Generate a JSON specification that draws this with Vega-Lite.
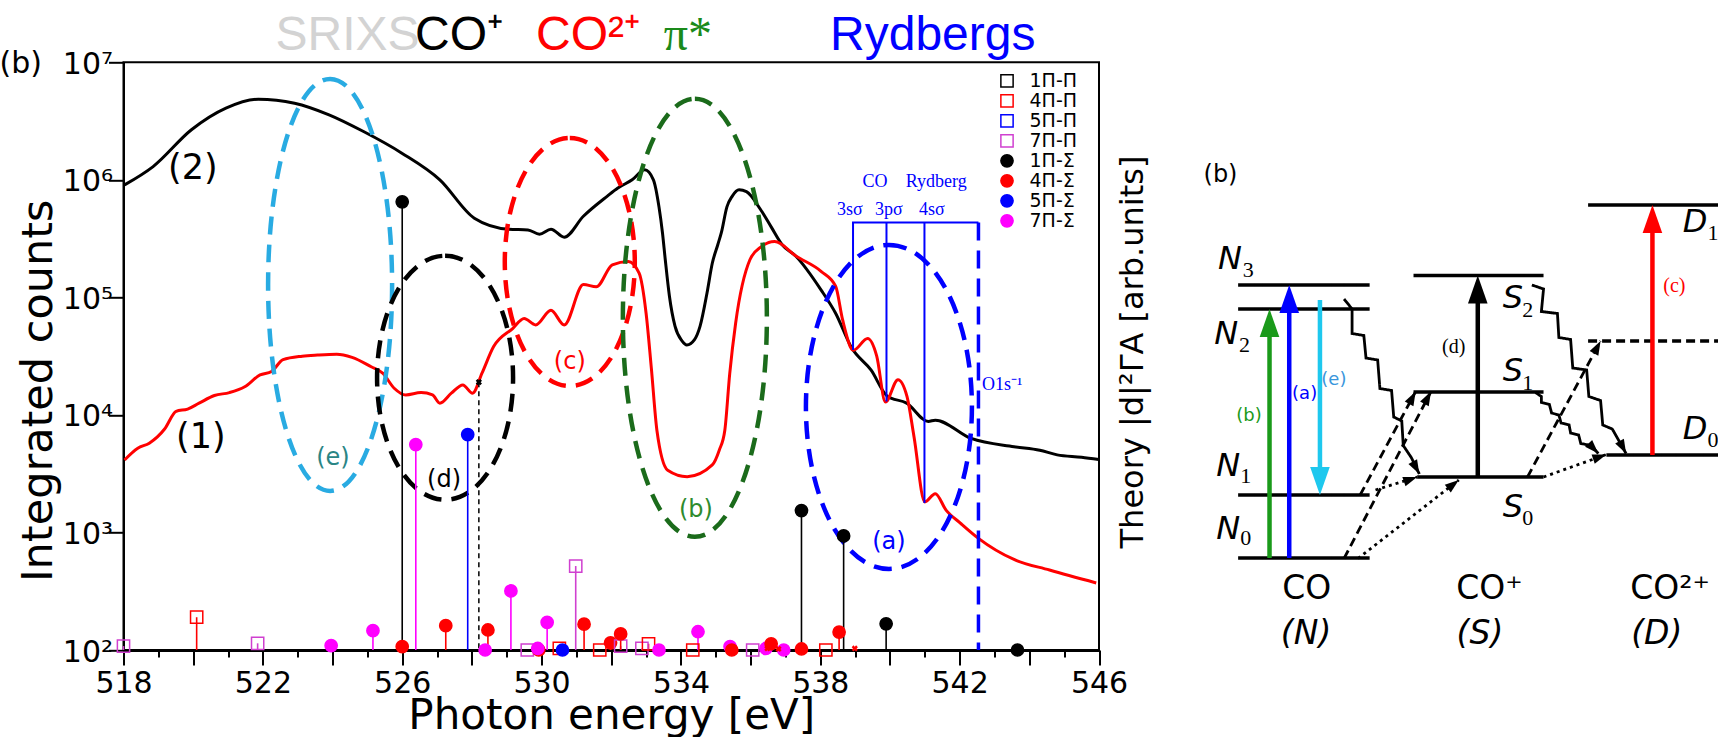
{
"$schema":"https://vega.github.io/schema/vega-lite/v6.json",
"width":975.5,"height":587.7,
"autosize":{"type":"none"},
"padding":{"left":123.5,"top":62.3,"right":619,"bottom":87},
"background":"white",
"config":{
 "view":{"stroke":"black","strokeWidth":2},
 "axis":{"grid":false,"labelFont":"DejaVu Sans","titleFont":"DejaVu Sans","labelColor":"black","titleColor":"black","domainColor":"black","tickColor":"black","titleFontWeight":"normal"},
 "legend":{"orient":"none","legendX":874,"legendY":9,"padding":0,"labelFont":"DejaVu Sans","labelFontSize":19,"labelColor":"black","symbolSize":150,"symbolStrokeWidth":1.5,"rowPadding":-0.4,"labelOffset":13}
},
"datasets":{
 "spec2":[{"x":518.03,"y":905700},{"x":518.85,"y":1297000},{"x":519.95,"y":2667000},{"x":520.94,"y":4074000},{"x":521.87,"y":4853000},{"x":522.91,"y":4487000},{"x":523.9,"y":3573000},{"x":524.89,"y":2576000},{"x":525.99,"y":1687000},{"x":527.08,"y":1000000},{"x":528.07,"y":472000},{"x":529.06,"y":380000},{"x":529.61,"y":375000},{"x":529.94,"y":345000},{"x":530.27,"y":380000},{"x":530.65,"y":325000},{"x":531.2,"y":490000},{"x":531.88,"y":724000},{"x":532.19,"y":851000},{"x":532.6,"y":1000000},{"x":532.96,"y":1216000},{"x":533.21,"y":1000000},{"x":533.37,"y":589000},{"x":533.47,"y":355000},{"x":533.55,"y":210000},{"x":533.67,"y":102300},{"x":533.83,"y":56900},{"x":534.03,"y":42700},{"x":534.17,"y":39400},{"x":534.39,"y":43700},{"x":534.55,"y":56900},{"x":534.75,"y":109600},{"x":534.9,"y":195000},{"x":535.06,"y":282000},{"x":535.16,"y":355000},{"x":535.32,"y":589000},{"x":535.47,"y":724000},{"x":535.67,"y":822000},{"x":535.88,"y":794000},{"x":536.28,"y":562000},{"x":536.59,"y":398000},{"x":536.9,"y":282000},{"x":537.3,"y":224000},{"x":538.03,"y":114800},{"x":538.44,"y":73300},{"x":538.9,"y":37200},{"x":539.46,"y":24000},{"x":539.92,"y":14450},{"x":540.48,"y":12590},{"x":541.1,"y":8810},{"x":541.3,"y":9020},{"x":542.33,"y":6310},{"x":543.56,"y":5370},{"x":544.3,"y":5010},{"x":544.8,"y":4570},{"x":545.5,"y":4365},{"x":546,"y":4170}],
 "spec1":[{"x":518.03,"y":4140},{"x":518.41,"y":5210},{"x":518.74,"y":5750},{"x":519.18,"y":7590},{"x":519.51,"y":10720},{"x":519.84,"y":11220},{"x":520.17,"y":12590},{"x":520.61,"y":14620},{"x":521.04,"y":15490},{"x":521.48,"y":17380},{"x":521.92,"y":21880},{"x":522.25,"y":23440},{"x":522.58,"y":29510},{"x":523.13,"y":31620},{"x":523.57,"y":32360},{"x":524.12,"y":32890},{"x":524.56,"y":30900},{"x":525.11,"y":25700},{"x":525.44,"y":22650},{"x":525.77,"y":16870},{"x":526.1,"y":14790},{"x":526.54,"y":15490},{"x":526.87,"y":14790},{"x":527.08,"y":12590},{"x":527.41,"y":15310},{"x":527.74,"y":17990},{"x":528.02,"y":15310},{"x":528.29,"y":22650},{"x":528.62,"y":38020},{"x":529.17,"y":54330},{"x":529.5,"y":66070},{"x":529.83,"y":58340},{"x":530.27,"y":77620},{"x":530.65,"y":58340},{"x":531.2,"y":128800},{"x":531.57,"y":123000},{"x":532.03,"y":189200},{"x":532.49,"y":202300},{"x":532.8,"y":160700},{"x":533.0,"y":73280},{"x":533.15,"y":25120},{"x":533.31,"y":7413},{"x":533.62,"y":3388},{"x":534.18,"y":2985},{"x":534.9,"y":3758},{"x":535.1,"y":5012},{"x":535.26,"y":7413},{"x":535.4,"y":22390},{"x":535.57,"y":60260},{"x":535.98,"y":208900},{"x":536.3,"y":269200},{"x":536.69,"y":298500},{"x":537.31,"y":223900},{"x":538.03,"y":166000},{"x":538.44,"y":124500},{"x":538.64,"y":64570},{"x":538.95,"y":35480},{"x":539.36,"y":44670},{"x":539.62,"y":31620},{"x":539.87,"y":12880},{"x":540.23,"y":19950},{"x":540.49,"y":14320},{"x":540.69,"y":6531},{"x":541.0,"y":1820},{"x":541.3,"y":2138},{"x":541.61,"y":1549},{"x":542.02,"y":1202},{"x":542.54,"y":891},{"x":543.56,"y":589},{"x":544.58,"y":479},{"x":545.92,"y":372}],
 "theory":[{"x":518.0,"y":108,"state":"7Π-Π"},{"x":520.1,"y":190,"state":"4Π-Π"},{"x":521.85,"y":114,"state":"7Π-Π"},{"x":523.96,"y":109,"state":"7Π-Σ"},{"x":525.16,"y":146,"state":"7Π-Σ"},{"x":526.0,"y":107,"state":"4Π-Σ"},{"x":526.0,"y":650000,"state":"1Π-Σ"},{"x":526.39,"y":5600,"state":"7Π-Σ"},{"x":527.25,"y":161,"state":"4Π-Σ"},{"x":527.88,"y":6800,"state":"5Π-Σ"},{"x":528.38,"y":100,"state":"7Π-Σ"},{"x":528.46,"y":148,"state":"4Π-Σ"},{"x":529.12,"y":318,"state":"7Π-Σ"},{"x":529.59,"y":100,"state":"7Π-Π"},{"x":529.92,"y":100,"state":"4Π-Σ"},{"x":529.89,"y":103,"state":"7Π-Σ"},{"x":530.16,"y":172,"state":"7Π-Σ"},{"x":530.51,"y":103,"state":"4Π-Π"},{"x":530.6,"y":100,"state":"5Π-Σ"},{"x":530.98,"y":518,"state":"7Π-Π"},{"x":531.22,"y":166,"state":"4Π-Σ"},{"x":531.67,"y":100,"state":"4Π-Π"},{"x":531.98,"y":115,"state":"4Π-Σ"},{"x":532.27,"y":108,"state":"7Π-Π"},{"x":532.27,"y":137,"state":"4Π-Σ"},{"x":532.88,"y":103,"state":"7Π-Π"},{"x":533.07,"y":113,"state":"4Π-Π"},{"x":533.37,"y":100,"state":"7Π-Σ"},{"x":534.34,"y":100,"state":"4Π-Π"},{"x":534.49,"y":143,"state":"7Π-Σ"},{"x":535.41,"y":107,"state":"7Π-Σ"},{"x":535.46,"y":100,"state":"4Π-Σ"},{"x":536.06,"y":100,"state":"7Π-Π"},{"x":536.44,"y":103,"state":"7Π-Σ"},{"x":536.59,"y":113,"state":"4Π-Σ"},{"x":536.95,"y":100,"state":"7Π-Σ"},{"x":537.46,"y":102,"state":"4Π-Σ"},{"x":537.46,"y":1535,"state":"1Π-Σ"},{"x":538.16,"y":100,"state":"4Π-Π"},{"x":538.54,"y":142,"state":"4Π-Σ"},{"x":538.67,"y":934,"state":"1Π-Σ"},{"x":539.89,"y":167,"state":"1Π-Σ"},{"x":543.66,"y":100,"state":"1Π-Σ"}],
 "rydberg":[{"seg":"3s","i":0,"x":538.94,"y":35700},{"seg":"3s","i":1,"x":538.94,"y":433000},{"seg":"3s","i":2,"x":542.54,"y":433000},{"seg":"3p","i":0,"x":539.9,"y":13000},{"seg":"3p","i":1,"x":539.9,"y":433000},{"seg":"4s","i":0,"x":540.99,"y":1780},{"seg":"4s","i":1,"x":540.99,"y":433000}],
 "dlines":[
  {"seg":"N3","kind":"level","style":"solid","i":0,"u":22.35,"v":73.0},{"seg":"N3","kind":"level","style":"solid","i":1,"u":43.63,"v":73.0},
  {"seg":"N2","kind":"level","style":"solid","i":0,"u":22.35,"v":68.2},{"seg":"N2","kind":"level","style":"solid","i":1,"u":43.63,"v":68.2},
  {"seg":"N1","kind":"level","style":"solid","i":0,"u":22.35,"v":31.0},{"seg":"N1","kind":"level","style":"solid","i":1,"u":43.63,"v":31.0},
  {"seg":"N0","kind":"level","style":"solid","i":0,"u":22.35,"v":18.4},{"seg":"N0","kind":"level","style":"solid","i":1,"u":43.63,"v":18.4},
  {"seg":"S2","kind":"level","style":"solid","i":0,"u":50.73,"v":74.9},{"seg":"S2","kind":"level","style":"solid","i":1,"u":71.77,"v":74.9},
  {"seg":"S1","kind":"level","style":"solid","i":0,"u":50.73,"v":51.6},{"seg":"S1","kind":"level","style":"solid","i":1,"u":71.77,"v":51.6},
  {"seg":"S0","kind":"level","style":"solid","i":0,"u":51.32,"v":34.6},{"seg":"S0","kind":"level","style":"solid","i":1,"u":71.77,"v":34.6},
  {"seg":"D1","kind":"level","style":"solid","i":0,"u":78.98,"v":89.0},{"seg":"D1","kind":"level","style":"solid","i":1,"u":100,"v":89.0},
  {"seg":"Dd","kind":"level","style":"dashed","i":0,"u":78.98,"v":61.8},{"seg":"Dd","kind":"level","style":"dashed","i":1,"u":100,"v":61.8},
  {"seg":"D0","kind":"level","style":"solid","i":0,"u":81.94,"v":39.0},{"seg":"D0","kind":"level","style":"solid","i":1,"u":100,"v":39.0},
  {"seg":"Z1","kind":"link","style":"solid","i":0,"u":39.49,"v":70.2},{"seg":"Z1","kind":"link","style":"solid","i":1,"u":40.79,"v":68.2},{"seg":"Z1","kind":"link","style":"solid","i":2,"u":40.79,"v":63.3},{"seg":"Z1","kind":"link","style":"solid","i":3,"u":42.69,"v":62.9},{"seg":"Z1","kind":"link","style":"solid","i":4,"u":43.04,"v":58.4},{"seg":"Z1","kind":"link","style":"solid","i":5,"u":44.93,"v":58.0},{"seg":"Z1","kind":"link","style":"solid","i":6,"u":45.29,"v":52.3},{"seg":"Z1","kind":"link","style":"solid","i":7,"u":47.18,"v":51.9},{"seg":"Z1","kind":"link","style":"solid","i":8,"u":47.53,"v":46.6},{"seg":"Z1","kind":"link","style":"solid","i":9,"u":48.83,"v":45.8},{"seg":"Z1","kind":"link","style":"solid","i":10,"u":49.07,"v":40.9},{"seg":"Z1","kind":"link","style":"solid","i":11,"u":50.37,"v":38.5},{"seg":"Z1","kind":"link","style":"solid","i":12,"u":51.67,"v":35.2},
  {"seg":"Z2","kind":"link","style":"solid","i":0,"u":69.88,"v":73.0},{"seg":"Z2","kind":"link","style":"solid","i":1,"u":71.77,"v":72.2},{"seg":"Z2","kind":"link","style":"solid","i":2,"u":71.42,"v":67.7},{"seg":"Z2","kind":"link","style":"solid","i":3,"u":74.02,"v":67.3},{"seg":"Z2","kind":"link","style":"solid","i":4,"u":74.25,"v":62.5},{"seg":"Z2","kind":"link","style":"solid","i":5,"u":76.15,"v":62.1},{"seg":"Z2","kind":"link","style":"solid","i":6,"u":76.5,"v":56.4},{"seg":"Z2","kind":"link","style":"solid","i":7,"u":78.75,"v":56.0},{"seg":"Z2","kind":"link","style":"solid","i":8,"u":79.1,"v":50.7},{"seg":"Z2","kind":"link","style":"solid","i":9,"u":81.0,"v":49.9},{"seg":"Z2","kind":"link","style":"solid","i":10,"u":81.35,"v":45.0},{"seg":"Z2","kind":"link","style":"solid","i":11,"u":82.89,"v":44.2},{"seg":"Z2","kind":"link","style":"solid","i":12,"u":85.13,"v":39.3},
  {"seg":"Z3","kind":"link","style":"solid","i":0,"u":70.47,"v":51.5},{"seg":"Z3","kind":"link","style":"solid","i":1,"u":71.42,"v":50.7},{"seg":"Z3","kind":"link","style":"solid","i":2,"u":71.42,"v":49.5},{"seg":"Z3","kind":"link","style":"solid","i":3,"u":72.72,"v":49.1},{"seg":"Z3","kind":"link","style":"solid","i":4,"u":73.07,"v":47.4},{"seg":"Z3","kind":"link","style":"solid","i":5,"u":74.25,"v":47.0},{"seg":"Z3","kind":"link","style":"solid","i":6,"u":74.61,"v":45.4},{"seg":"Z3","kind":"link","style":"solid","i":7,"u":75.91,"v":45.0},{"seg":"Z3","kind":"link","style":"solid","i":8,"u":76.15,"v":43.4},{"seg":"Z3","kind":"link","style":"solid","i":9,"u":77.45,"v":43.0},{"seg":"Z3","kind":"link","style":"solid","i":10,"u":77.8,"v":41.3},{"seg":"Z3","kind":"link","style":"solid","i":11,"u":79.46,"v":40.9},{"seg":"Z3","kind":"link","style":"solid","i":12,"u":80.64,"v":39.3},
  {"seg":"DA1","kind":"link","style":"dashed","i":0,"u":39.49,"v":18.3},{"seg":"DA1","kind":"link","style":"dashed","i":1,"u":53.56,"v":51.7},
  {"seg":"DA2","kind":"link","style":"dashed","i":0,"u":42.09,"v":31.0},{"seg":"DA2","kind":"link","style":"dashed","i":1,"u":51.08,"v":51.7},
  {"seg":"DA3","kind":"link","style":"dashed","i":0,"u":69.17,"v":34.6},{"seg":"DA3","kind":"link","style":"dashed","i":1,"u":81.0,"v":61.8},
  {"seg":"DO1","kind":"link","style":"dotted","i":0,"u":41.74,"v":18.3},{"seg":"DO1","kind":"link","style":"dotted","i":1,"u":58.06,"v":34.0},
  {"seg":"DO2","kind":"link","style":"dotted","i":0,"u":44.58,"v":32.0},{"seg":"DO2","kind":"link","style":"dotted","i":1,"u":51.32,"v":34.6},
  {"seg":"DO3","kind":"link","style":"dotted","i":0,"u":71.77,"v":34.6},{"seg":"DO3","kind":"link","style":"dotted","i":1,"u":81.94,"v":39.1}
 ],
 "dshafts":[{"tr":"b","i":0,"u":27.43,"v":18.4},{"tr":"b","i":1,"u":27.43,"v":64},{"tr":"a","i":0,"u":30.62,"v":18.4},{"tr":"a","i":1,"u":30.62,"v":69},{"tr":"e","i":0,"u":35.59,"v":70},{"tr":"e","i":1,"u":35.59,"v":35},{"tr":"d","i":0,"u":61.13,"v":34.6},{"tr":"d","i":1,"u":61.13,"v":71},{"tr":"c","i":0,"u":89.39,"v":39},{"tr":"c","i":1,"u":89.39,"v":85}],
 "dheads":[{"grp":"up","tr":"b","u":27.43,"v":68.2},{"grp":"up","tr":"a","u":30.62,"v":73.0},{"grp":"up","tr":"d","u":61.13,"v":74.9},{"grp":"up","tr":"c","u":89.39,"v":89.0},{"grp":"down","tr":"e","u":35.59,"v":31.0},
  {"grp":"g28","tr":"k","u":53.56,"v":51.7},{"grp":"g28","tr":"k","u":51.08,"v":51.7},{"grp":"g28","tr":"k","u":81.0,"v":61.8},{"grp":"g52","tr":"k","u":58.06,"v":34.0},{"grp":"g71","tr":"k","u":51.32,"v":34.6},{"grp":"g71","tr":"k","u":81.94,"v":39.1},{"grp":"g152","tr":"k","u":51.67,"v":35.2},{"grp":"g152","tr":"k","u":85.13,"v":39.3},{"grp":"g136","tr":"k","u":80.64,"v":39.3}]
},
"layer":[
 {
  "encoding":{
   "x":{"field":"x","type":"quantitative","scale":{"domain":[518,546],"nice":false,"zero":false},
    "axis":{"values":[518,519,520,521,522,523,524,525,526,527,528,529,530,531,532,533,534,535,536,537,538,539,540,541,542,543,544,545,546],"labelExpr":"(datum.value-518)%4==0 ? datum.label : ''","labelFlush":false,"labelOverlap":false,"labelFontSize":30,"labelPadding":3,"tickSize":{"condition":{"test":"datum.value%2==0","value":15},"value":7},"tickWidth":2,"domainWidth":3,"title":"Photon energy [eV]","titleFontSize":42,"titlePadding":-3}},
   "y":{"field":"y","type":"quantitative","scale":{"type":"log","domain":[100,10000000],"nice":false},
    "axis":{"values":[100,1000,10000,100000,1000000,10000000],"labelExpr":"['10²','10³','10⁴','10⁵','10⁶','10⁷'][round(log(datum.value)/LN10)-2]","labelFontSize":30,"labelPadding":-4,"labelOffset":2,"tickSize":15,"tickWidth":2,"domainWidth":2,"title":"Integrated counts","titleFontSize":43,"titlePadding":2,"titleY":328}}
  },
  "layer":[
   {"data":{"name":"spec2"},"mark":{"type":"line","color":"black","strokeWidth":3,"interpolate":"monotone"}},
   {"data":{"name":"spec1"},"mark":{"type":"line","color":"#ff0000","strokeWidth":3,"interpolate":"monotone"}},
   {"data":{"values":[{"x":523.93,"y":127700}]},"mark":{"type":"point","shape":"M0,-2.06C0.342,-2.06 0.62,-1.138 0.62,0C0.62,1.138 0.342,2.06 0,2.06C-0.342,2.06 -0.62,1.138 -0.62,0C-0.62,-1.138 -0.342,-2.06 0,-2.06Z","size":40000,"filled":false,"stroke":"#29abe2","strokeWidth":4.5,"strokeDash":[18,10],"opacity":1}},
   {"data":{"values":[{"x":527.23,"y":20700}]},"mark":{"type":"point","shape":"M0,-1.22C0.376,-1.22 0.68,-0.674 0.68,0C0.68,0.674 0.376,1.22 0,1.22C-0.376,1.22 -0.68,0.674 -0.68,0C-0.68,-0.674 -0.376,-1.22 0,-1.22Z","size":40000,"filled":false,"stroke":"black","strokeWidth":4.5,"strokeDash":[18,10],"opacity":1}},
   {"data":{"values":[{"x":530.81,"y":200000}]},"mark":{"type":"point","shape":"M0,-1.24C0.359,-1.24 0.65,-0.685 0.65,0C0.65,0.685 0.359,1.24 0,1.24C-0.359,1.24 -0.65,0.685 -0.65,0C-0.65,-0.685 -0.359,-1.24 0,-1.24Z","size":40000,"filled":false,"stroke":"#ff0000","strokeWidth":4.5,"strokeDash":[18,10],"opacity":1}},
   {"data":{"values":[{"x":534.4,"y":67000}]},"mark":{"type":"point","shape":"M0,-2.19C0.398,-2.19 0.72,-1.21 0.72,0C0.72,1.21 0.398,2.19 0,2.19C-0.398,2.19 -0.72,1.21 -0.72,0C-0.72,-1.21 -0.398,-2.19 0,-2.19Z","size":40000,"filled":false,"stroke":"#1b6b1b","strokeWidth":4.5,"strokeDash":[18,10],"opacity":1}},
   {"data":{"values":[{"x":539.97,"y":11700}]},"mark":{"type":"point","shape":"M0,-1.62C0.458,-1.62 0.83,-0.895 0.83,0C0.83,0.895 0.458,1.62 0,1.62C-0.458,1.62 -0.83,0.895 -0.83,0C-0.83,-0.895 -0.458,-1.62 0,-1.62Z","size":40000,"filled":false,"stroke":"#0000ff","strokeWidth":4.5,"strokeDash":[18,10],"opacity":1}},
   {"data":{"name":"theory"},"mark":{"type":"rule","strokeWidth":1.6},"encoding":{"y2":{"datum":100},"color":{"field":"state","type":"nominal","scale":{"domain":["1Π-Π","4Π-Π","5Π-Π","7Π-Π","1Π-Σ","4Π-Σ","5Π-Σ","7Π-Σ"],"range":["black","#ff0000","#0000ff","#d040d0","black","#ff0000","#0000ff","#ff00ff"]},"legend":null}}},
   {"data":{"values":[{"x":528.2,"y":19000}]},"mark":{"type":"rule","color":"black","strokeWidth":1.5,"strokeDash":[5,4]},"encoding":{"y2":{"datum":100}}},
   {"data":{"name":"theory"},"mark":{"type":"point","size":150,"strokeWidth":1.5,"opacity":1},"encoding":{
     "shape":{"field":"state","type":"nominal","title":null,"scale":{"domain":["1Π-Π","4Π-Π","5Π-Π","7Π-Π","1Π-Σ","4Π-Σ","5Π-Σ","7Π-Σ"],"range":["square","square","square","square","circle","circle","circle","circle"]}},
     "fill":{"field":"state","type":"nominal","title":null,"scale":{"domain":["1Π-Π","4Π-Π","5Π-Π","7Π-Π","1Π-Σ","4Π-Σ","5Π-Σ","7Π-Σ"],"range":["transparent","transparent","transparent","transparent","black","#ff0000","#0000ff","#ff00ff"]}},
     "stroke":{"field":"state","type":"nominal","title":null,"scale":{"domain":["1Π-Π","4Π-Π","5Π-Π","7Π-Π","1Π-Σ","4Π-Σ","5Π-Σ","7Π-Σ"],"range":["black","#ff0000","#0000ff","#d040d0","black","#ff0000","#0000ff","#ff00ff"]}}}},
   {"data":{"values":[{"x":528.2,"y":19000,"c":"k"},{"x":536.48,"y":103,"c":"r"},{"x":536.8,"y":102,"c":"r"},{"x":538.99,"y":103,"c":"r"}]},"mark":{"type":"point","shape":"cross","angle":45,"size":40,"filled":true,"opacity":1},"encoding":{"color":{"condition":{"test":"datum.c=='k'","value":"black"},"value":"#ff0000"}}},
   {"data":{"name":"rydberg"},"mark":{"type":"line","color":"#0000ff","strokeWidth":2},"encoding":{"detail":{"field":"seg"},"order":{"field":"i"}}},
   {"data":{"values":[{"x":542.54,"y":433000}]},"mark":{"type":"rule","color":"#0000ff","strokeWidth":3.5,"strokeDash":[18,10]},"encoding":{"y2":{"datum":100}}},
   {"data":{"values":[{"x":522.363,"y":12750000,"t":"SRIXS"},{"x":526.367,"y":12750000,"t":"CO⁺"},{"x":529.84,"y":12750000,"t":"CO²⁺"},{"x":538.28,"y":12750000,"t":"Rydbergs"}]},"mark":{"type":"text","font":"Liberation Sans","fontSize":48,"align":"left","baseline":"alphabetic"},"encoding":{"text":{"field":"t"},"color":{"condition":[{"test":"datum.t=='SRIXS'","value":"#d3d3d3"},{"test":"datum.t=='CO²⁺'","value":"#ff0000"},{"test":"datum.t=='Rydbergs'","value":"#0000ff"}],"value":"black"}}},
   {"data":{"values":[{"x":533.51,"y":12750000,"t":"π*"}]},"mark":{"type":"text","font":"Liberation Serif","fontSize":48,"align":"left","baseline":"alphabetic","color":"#1a8a1a"},"encoding":{"text":{"field":"t"}}},
   {"data":{"values":[{"x":515.66,"y":9700000,"t":"(b)"}]},"mark":{"type":"text","font":"DejaVu Sans","fontSize":30,"align":"right","baseline":"middle","color":"black"},"encoding":{"text":{"field":"t"}}},
   {"data":{"values":[{"x":519.99,"y":1265000,"t":"(2)"},{"x":520.22,"y":6500,"t":"(1)"},{"x":524.01,"y":4300,"t":"(e)"},{"x":527.2,"y":2800,"t":"(d)"},{"x":530.81,"y":28200,"t":"(c)"},{"x":534.43,"y":1550,"t":"(b)"},{"x":539.97,"y":830,"t":"(a)"}]},"mark":{"type":"text","font":"DejaVu Sans","align":"center","baseline":"middle"},"encoding":{"text":{"field":"t"},"size":{"condition":{"test":"datum.t=='(1)'||datum.t=='(2)'","value":35},"value":24},"color":{"condition":[{"test":"datum.t=='(e)'","value":"#2a8585"},{"test":"datum.t=='(c)'","value":"#ff0000"},{"test":"datum.t=='(b)'","value":"#2e8b2e"},{"test":"datum.t=='(a)'","value":"#0000ff"}],"value":"black"}}},
   {"data":{"values":[{"x":539.57,"y":960000,"t":"CO"},{"x":541.33,"y":960000,"t":"Rydberg"},{"x":538.85,"y":556000,"t":"3sσ"},{"x":539.97,"y":556000,"t":"3pσ"},{"x":541.2,"y":556000,"t":"4sσ"}]},"mark":{"type":"text","font":"Liberation Serif","fontSize":18,"align":"center","baseline":"middle","color":"#0000ff"},"encoding":{"text":{"field":"t"}}},
   {"data":{"values":[{"x":542.64,"y":18000,"t":"O1s⁻¹"}]},"mark":{"type":"text","font":"Liberation Serif","fontSize":18,"align":"left","baseline":"middle","color":"#0000ff"},"encoding":{"text":{"field":"t"}}}
  ]
 },
 {
  "encoding":{
   "x":{"field":"u","type":"quantitative","scale":{"domain":[0,100],"range":[976.5,1594.5],"nice":false,"zero":false},"axis":null},
   "y":{"field":"v","type":"quantitative","scale":{"domain":[0,100],"range":[587.7,87.7],"nice":false,"zero":false},"axis":null}
  },
  "layer":[
   {"data":{"name":"dlines"},"transform":[{"filter":"datum.kind=='level'"}],"mark":{"type":"line","color":"black","strokeWidth":3.5},"encoding":{"detail":{"field":"seg"},"order":{"field":"i"},"strokeDash":{"field":"style","type":"nominal","scale":{"domain":["solid","dashed","dotted"],"range":[[1,0],[9,5],[3,4]]},"legend":null}}},
   {"data":{"name":"dlines"},"transform":[{"filter":"datum.kind=='link'"}],"mark":{"type":"line","color":"black","strokeWidth":2.8},"encoding":{"detail":{"field":"seg"},"order":{"field":"i"},"strokeDash":{"field":"style","type":"nominal","scale":{"domain":["solid","dashed","dotted"],"range":[[1,0],[9,5],[3,4]]},"legend":null}}},
   {"data":{"name":"dshafts"},"mark":{"type":"line","strokeWidth":4.5},"encoding":{"order":{"field":"i"},"color":{"field":"tr","type":"nominal","scale":{"domain":["a","b","c","d","e","k"],"range":["#0000ff","#1a9a1a","#ff0000","#000000","#1ec8ee","#000000"]},"legend":null}}},
   {"data":{"name":"dheads"},"transform":[{"filter":"datum.grp=='up'"}],"mark":{"type":"point","shape":"M0,0L0.7,2L-0.7,2Z","size":784,"filled":true,"opacity":1,"angle":0},"encoding":{"color":{"field":"tr","type":"nominal","scale":{"domain":["a","b","c","d","e","k"],"range":["#0000ff","#1a9a1a","#ff0000","#000000","#1ec8ee","#000000"]},"legend":null}}},
   {"data":{"name":"dheads"},"transform":[{"filter":"datum.grp=='down'"}],"mark":{"type":"point","shape":"M0,0L0.7,2L-0.7,2Z","size":784,"filled":true,"opacity":1,"angle":180},"encoding":{"color":{"field":"tr","type":"nominal","scale":{"domain":["a","b","c","d","e","k"],"range":["#0000ff","#1a9a1a","#ff0000","#000000","#1ec8ee","#000000"]},"legend":null}}},
   {"data":{"name":"dheads"},"transform":[{"filter":"datum.grp=='g28'"}],"mark":{"type":"point","shape":"M0,0L0.7,2L-0.7,2Z","size":196,"filled":true,"opacity":1,"angle":28,"color":"black"}},
   {"data":{"name":"dheads"},"transform":[{"filter":"datum.grp=='g52'"}],"mark":{"type":"point","shape":"M0,0L0.7,2L-0.7,2Z","size":196,"filled":true,"opacity":1,"angle":52,"color":"black"}},
   {"data":{"name":"dheads"},"transform":[{"filter":"datum.grp=='g71'"}],"mark":{"type":"point","shape":"M0,0L0.7,2L-0.7,2Z","size":196,"filled":true,"opacity":1,"angle":71,"color":"black"}},
   {"data":{"name":"dheads"},"transform":[{"filter":"datum.grp=='g152'"}],"mark":{"type":"point","shape":"M0,0L0.7,2L-0.7,2Z","size":196,"filled":true,"opacity":1,"angle":152,"color":"black"}},
   {"data":{"name":"dheads"},"transform":[{"filter":"datum.grp=='g136'"}],"mark":{"type":"point","shape":"M0,0L0.7,2L-0.7,2Z","size":196,"filled":true,"opacity":1,"angle":136,"color":"black"}},
   {"data":{"values":[{"u":21.05,"v":78.3,"t":"N"},{"u":20.41,"v":63.3,"t":"N"},{"u":20.73,"v":36.8,"t":"N"},{"u":20.73,"v":24.2,"t":"N"},{"u":66.8,"v":70.4,"t":"S"},{"u":66.8,"v":55.8,"t":"S"},{"u":66.8,"v":28.7,"t":"S"},{"u":96.3,"v":85.6,"t":"D"},{"u":96.3,"v":44.2,"t":"D"}]},"mark":{"type":"text","font":"DejaVu Sans","fontStyle":"italic","fontSize":32,"align":"center","baseline":"middle","color":"black"},"encoding":{"text":{"field":"t"}}},
   {"data":{"values":[{"u":23.98,"v":76.0,"t":"3"},{"u":23.4,"v":61.1,"t":"2"},{"u":23.6,"v":34.8,"t":"1"},{"u":23.6,"v":22.4,"t":"0"},{"u":69.2,"v":68.1,"t":"2"},{"u":69.2,"v":53.5,"t":"1"},{"u":69.2,"v":26.5,"t":"0"},{"u":99.2,"v":83.4,"t":"1"},{"u":99.2,"v":42.0,"t":"0"}]},"mark":{"type":"text","font":"Liberation Serif","fontSize":22,"align":"center","baseline":"middle","color":"black"},"encoding":{"text":{"field":"t"}}},
   {"data":{"values":[{"u":24.12,"v":46.8,"t":"(b)"},{"u":33.11,"v":51.2,"t":"(a)"},{"u":37.84,"v":54,"t":"(e)"}]},"mark":{"type":"text","font":"DejaVu Sans","fontSize":18,"align":"center","baseline":"middle"},"encoding":{"text":{"field":"t"},"color":{"condition":[{"test":"datum.t=='(b)'","value":"#1a9a1a"},{"test":"datum.t=='(a)'","value":"#0000ff"}],"value":"#3a96dc"}}},
   {"data":{"values":[{"u":57.23,"v":60.6,"t":"(d)"},{"u":92.94,"v":72.9,"t":"(c)"}]},"mark":{"type":"text","font":"Liberation Serif","fontSize":20,"align":"center","baseline":"middle"},"encoding":{"text":{"field":"t"},"color":{"condition":{"test":"datum.t=='(c)'","value":"#ff0000"},"value":"black"}}},
   {"data":{"values":[{"u":19.5,"v":95,"t":"(b)"}]},"mark":{"type":"text","font":"DejaVu Sans","fontSize":24,"align":"center","baseline":"middle","color":"black"},"encoding":{"text":{"field":"t"}}},
   {"data":{"values":[{"u":33.46,"v":12.3,"t":"CO"},{"u":63.02,"v":12.3,"t":"CO⁺"},{"u":92.23,"v":12.3,"t":"CO²⁺"}]},"mark":{"type":"text","font":"DejaVu Sans","fontSize":33,"align":"center","baseline":"middle","color":"black"},"encoding":{"text":{"field":"t"}}},
   {"data":{"values":[{"u":33.34,"v":3.3,"t":"(N)"},{"u":61.48,"v":3.3,"t":"(S)"},{"u":90.1,"v":3.3,"t":"(D)"}]},"mark":{"type":"text","font":"DejaVu Sans","fontStyle":"italic","fontSize":33,"align":"center","baseline":"middle","color":"black"},"encoding":{"text":{"field":"t"}}},
   {"data":{"values":[{"u":5.26,"v":59.6,"t":"Theory |d|²ΓA [arb.units]"}]},"mark":{"type":"text","font":"DejaVu Sans","fontSize":32,"align":"center","baseline":"middle","angle":270,"color":"black"},"encoding":{"text":{"field":"t"}}}
  ]
 }
],
"resolve":{"scale":{"x":"independent","y":"independent","color":"independent","strokeDash":"independent"},"axis":{"x":"independent","y":"independent"},"legend":{"color":"independent"}}
}
